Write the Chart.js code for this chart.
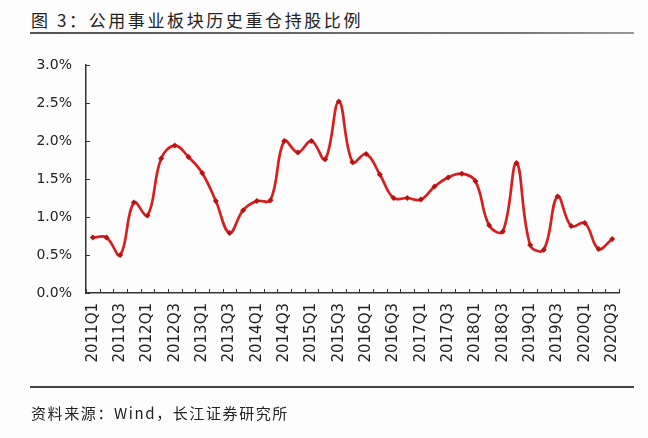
<!DOCTYPE html>
<html>
<head>
<meta charset="utf-8">
<script src="https://cdn.jsdelivr.net/npm/chart.js@4"></script>
<style>
  body { margin: 0; background: #fdfdfd; width: 648px; height: 438px; position: relative; overflow: hidden; }
  #title { position: absolute; left: 31px; top: 7px; font: 17px "Noto Sans CJK SC", sans-serif; color: #222; letter-spacing: 2.6px; white-space: nowrap; }
  .rule { position: absolute; left: 30px; width: 604px; height: 2px; }
  #topRule { top: 32px; background: linear-gradient(to right, #555, #777 80%, #999); }
  #bottomRule { top: 386px; background: #444; }
  #source { position: absolute; left: 31px; top: 402px; font: 15px "Noto Sans CJK SC", sans-serif; color: #222; letter-spacing: 1.6px; white-space: nowrap; }
  #wrap { position: absolute; left: 0; top: 0; width: 648px; height: 438px; }
</style>
</head>
<body>
<div id="title">图&nbsp;3：公用事业板块历史重仓持股比例</div>
<div class="rule" id="topRule"></div>
<div id="wrap"><canvas id="graph"></canvas></div>
<div class="rule" id="bottomRule"></div>
<div id="source">资料来源：Wind，长江证券研究所</div>
<script>
// quarters 2011Q1 .. 2020Q3
const quarters = [
    '2011Q1','2011Q2','2011Q3','2011Q4',
    '2012Q1','2012Q2','2012Q3','2012Q4',
    '2013Q1','2013Q2','2013Q3','2013Q4',
    '2014Q1','2014Q2','2014Q3','2014Q4',
    '2015Q1','2015Q2','2015Q3','2015Q4',
    '2016Q1','2016Q2','2016Q3','2016Q4',
    '2017Q1','2017Q2','2017Q3','2017Q4',
    '2018Q1','2018Q2','2018Q3','2018Q4',
    '2019Q1','2019Q2','2019Q3','2019Q4',
    '2020Q1','2020Q2','2020Q3'
];
// heavy holding ratio, %
const holdingPct = [
    0.73, 0.73, 0.50, 1.19,
    1.02, 1.77, 1.94, 1.79,
    1.58, 1.21, 0.79, 1.09,
    1.21, 1.22, 2.00, 1.85,
    2.00, 1.76, 2.52, 1.72,
    1.83, 1.56, 1.25, 1.25,
    1.23, 1.40, 1.52, 1.57,
    1.47, 0.89, 0.81, 1.71,
    0.63, 0.57, 1.27, 0.88,
    0.92, 0.58, 0.71
];
const yTicks = [0, 0.5, 1.0, 1.5, 2.0, 2.5, 3.0];

const axisColor = '#333';

// short tick marks pointing into the plot area
const innerTicks = {
    id: 'innerTicks',
    afterDraw(chart) {
        const ctx = chart.ctx;
        const x = chart.scales.x, y = chart.scales.y;
        ctx.save();
        ctx.strokeStyle = axisColor;
        ctx.lineWidth = 1;
        const step = x.width / quarters.length;
        for (let i = 0; i <= quarters.length; i++) {
            const px = Math.round(x.left + i * step) + 0.5;
            ctx.beginPath();
            ctx.moveTo(px, y.bottom);
            ctx.lineTo(px, y.bottom - 4);
            ctx.stroke();
        }
        for (const v of yTicks) {
            const py = Math.round(y.getPixelForValue(v)) + 0.5;
            ctx.beginPath();
            ctx.moveTo(x.left, py);
            ctx.lineTo(x.left + 4, py);
            ctx.stroke();
        }
        ctx.restore();
    }
};

let canvas = document.getElementById('graph').getContext('2d');
let chart = new Chart(canvas, {
    type: 'line',
    data: {
        labels: quarters,
        datasets: [{
            data: holdingPct,
            borderColor: '#d81e1e',
            borderWidth: 2.7,
            tension: 0.4,
            pointStyle: 'rectRot',
            pointRadius: 3,
            pointBackgroundColor: '#b41414',
            pointBorderColor: '#b41414',
            pointBorderWidth: 0
        }]
    },
    options: {
        responsive: true,
        maintainAspectRatio: false,
        animation: false,
        layout: { padding: { top: 65, right: 29, left: 0, bottom: 0 } },
        plugins: { legend: { display: false }, tooltip: { enabled: false } },
        scales: {
            x: {
                offset: true,
                grid: { display: false, drawTicks: false },
                border: { color: axisColor, width: 1.5 },
                afterFit: (s) => { s.height = 145; },
                ticks: {
                    autoSkip: false,
                    maxRotation: 90,
                    minRotation: 90,
                    padding: 10,
                    color: '#222',
                    font: { family: 'DejaVu Sans', size: 15 },
                    callback: function(value, index) {
                        return index % 2 === 0 ? quarters[index] : '';
                    }
                }
            },
            y: {
                min: 0,
                max: 3,
                grid: { display: false, drawTicks: false },
                border: { color: axisColor, width: 1.5 },
                afterFit: (s) => { s.width = 86; },
                afterBuildTicks: (s) => { s.ticks = yTicks.map(v => ({ value: v })); },
                ticks: {
                    padding: 14,
                    color: '#222',
                    font: { family: 'DejaVu Sans', size: 14 },
                    callback: (v) => v.toFixed(1) + '%'
                }
            }
        }
    },
    plugins: [innerTicks]
});
</script>
</body>
</html>
